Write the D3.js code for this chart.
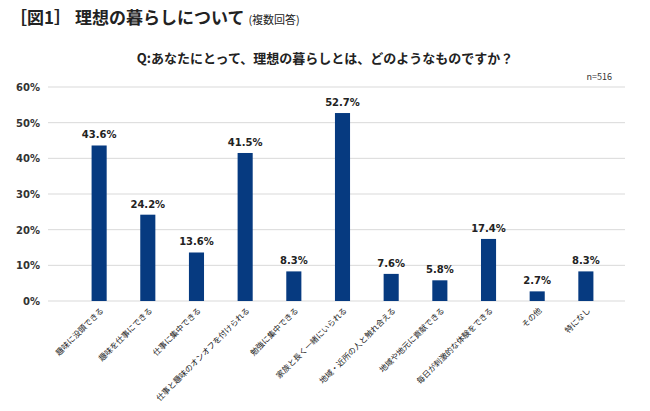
<!DOCTYPE html>
<html><head><meta charset="utf-8">
<script src="https://cdn.jsdelivr.net/npm/d3@7"></script>
<style>body{margin:0;background:#fff;font-family:"Noto Sans CJK JP","Noto Sans",sans-serif;}</style>
</head><body>
<svg id="chart" width="650" height="411"></svg>
<script>
//chart data
const categories = ["趣味に没頭できる", "趣味を仕事にできる", "仕事に集中できる", "仕事と趣味のオンオフを付けられる",
  "勉強に集中できる", "家族と長く一緒にいられる", "地域・近所の人と触れ合える", "地域や地元に貢献できる",
  "毎日が刺激的な体験をできる", "その他", "特になし"];
const values = [43.6, 24.2, 13.6, 41.5, 8.3, 52.7, 7.6, 5.8, 17.4, 2.7, 8.3];
const yTicks = [0, 10, 20, 30, 40, 50, 60];

const svg = d3.select("#chart");
const plotLeft = 48, plotRight = 625, plotTop = 87, plotBottom = 301;

//titles
svg.append("text").attr("x", 10).attr("y", 24).attr("font-size", 17).attr("font-weight", "bold")
  .attr("fill", "#222").text("［図1］ 理想の暮らしについて")
  .append("tspan").attr("font-size", 11).attr("font-weight", "normal").attr("dx", 4).text("(複数回答)");
svg.append("text").attr("x", 325).attr("y", 63).attr("text-anchor", "middle").attr("font-size", 13)
  .attr("font-weight", "bold").attr("fill", "#222").text("Q:あなたにとって、理想の暮らしとは、どのようなものですか？");
svg.append("text").attr("x", 612).attr("y", 80).attr("text-anchor", "end").attr("font-size", 9)
  .attr("fill", "#333").text("n=516");

const x = d3.scaleBand().domain(categories).range([58, 627]).padding(0.69);
const y = d3.scaleLinear().domain([0, 60]).range([plotBottom, plotTop]);

//gridlines and y labels
svg.selectAll(".grid").data(yTicks).join("line")
  .attr("x1", plotLeft).attr("x2", plotRight)
  .attr("y1", d => y(d)).attr("y2", d => y(d))
  .attr("stroke", "#d9d9d9");
svg.selectAll(".ylab").data(yTicks).join("text")
  .attr("x", 40).attr("y", d => y(d) + 4).attr("text-anchor", "end")
  .attr("font-size", 10).attr("font-weight", "bold").attr("fill", "#333")
  .attr("font-family", "'DejaVu Sans',sans-serif")
  .text(d => d + "%");

//bars
svg.selectAll("rect").data(values).join("rect")
  .attr("x", (d, i) => x(categories[i]))
  .attr("y", d => y(d))
  .attr("width", x.bandwidth())
  .attr("height", d => plotBottom - y(d))
  .attr("fill", "#063a80");

//value labels
svg.selectAll(".vlab").data(values).join("text")
  .attr("x", (d, i) => x(categories[i]) + x.bandwidth() / 2)
  .attr("y", d => y(d) - 7).attr("text-anchor", "middle")
  .attr("font-size", 10).attr("font-weight", "bold").attr("fill", "#222")
  .attr("font-family", "'DejaVu Sans',sans-serif")
  .text(d => d.toFixed(1) + "%");

//category labels
svg.selectAll(".clab").data(categories).join("text")
  .attr("transform", d => `translate(${x(d) + x.bandwidth() / 2 + 5},${plotBottom + 10}) rotate(-45)`)
  .attr("text-anchor", "end").attr("font-size", 8).attr("fill", "#222")
  .text(d => d);
</script>
</body></html>
